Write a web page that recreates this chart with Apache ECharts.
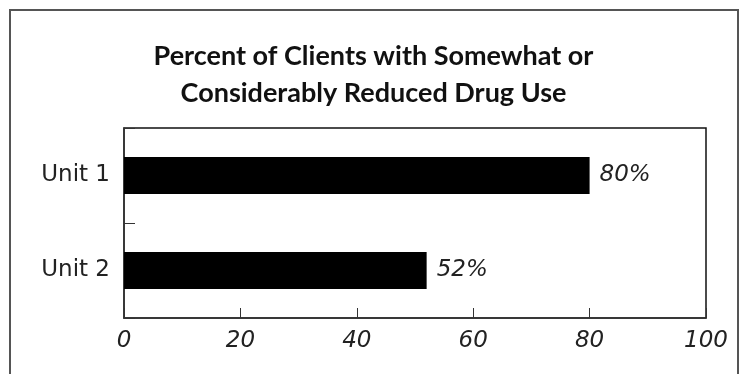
<!DOCTYPE html>
<html>
<head>
<meta charset="utf-8">
<script src="https://cdn.jsdelivr.net/npm/echarts@6/dist/echarts.min.js"></script>
<style>
html,body{margin:0;padding:0;background:#fff;}
#chart{width:747px;height:374px;}
</style>
</head>
<body>
<div id="chart"></div>
<script>
const titleText = 'Percent of Clients with Somewhat or\nConsiderably Reduced Drug Use';
const categories = ['Unit 1', 'Unit 2'];
const values = [80, 52];
const xTicks = [0, 20, 40, 60, 80, 100];

const chart = echarts.init(document.getElementById('chart'));
const titleFont = 'Lato, "Noto Sans", sans-serif';
const labelFont = '"DejaVu Sans", sans-serif';
chart.setOption({
  animation: false,
  backgroundColor: '#fff',
  title: {
    text: titleText,
    left: 'center',
    top: 33,
    textStyle: {
      fontFamily: titleFont,
      fontWeight: 'bold',
      fontSize: 27,
      lineHeight: 37,
      color: '#111'
    }
  },
  graphic: [{
    type: 'rect',
    shape: { x: 10, y: 10, width: 728, height: 420 },
    style: { fill: 'none', stroke: '#555', lineWidth: 2 },
    silent: true
  }],
  grid: {
    left: 124, right: 41, top: 128, bottom: 56,
    show: true, borderColor: '#111', borderWidth: 1.5, backgroundColor: 'transparent'
  },
  xAxis: {
    type: 'value',
    min: xTicks[0],
    max: xTicks[xTicks.length - 1],
    interval: 20,
    splitLine: { show: false },
    axisLine: { show: true, lineStyle: { color: '#333', width: 1.5 } },
    axisTick: { show: true, inside: true, length: 10, lineStyle: { color: '#333' } },
    axisLabel: {
      margin: 12,
      fontFamily: labelFont,
      fontStyle: 'italic',
      fontSize: 23,
      color: '#222'
    }
  },
  yAxis: {
    type: 'category',
    data: categories,
    inverse: true,
    axisLine: { show: true, lineStyle: { color: '#333', width: 1.5 } },
    axisTick: { show: true, inside: true, length: 11, lineStyle: { color: '#333' } },
    axisLabel: {
      margin: 14,
      fontFamily: labelFont,
      fontSize: 23,
      color: '#222'
    }
  },
  series: [{
    type: 'bar',
    data: values,
    barWidth: 37,
    itemStyle: { color: '#000' },
    label: {
      show: true,
      position: 'right',
      distance: 10,
      formatter: '{c}%',
      fontFamily: labelFont,
      fontStyle: 'italic',
      fontSize: 23,
      color: '#222'
    }
  }]
});
</script>
</body>
</html>
